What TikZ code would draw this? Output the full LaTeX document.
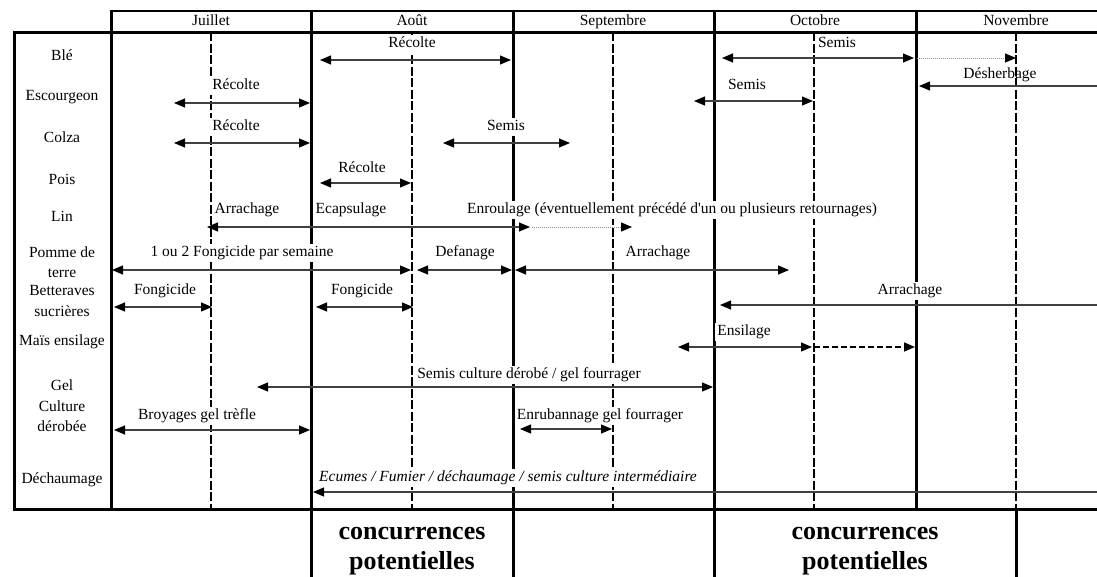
\documentclass[tikz,border=0pt]{standalone}
\usepackage{fontspec}
\setmainfont{Liberation Serif}
\usetikzlibrary{arrows.meta}
\begin{document}
\begin{tikzpicture}[x=1pt,y=-1pt,
  thickline/.style={line width=3pt,line cap=rect},
  thinline/.style={line width=1.5pt},
  midline/.style={line width=1.8pt,dash pattern=on 9pt off 2.5pt},
  lbl/.style={font=\fontsize{15.5}{18}\selectfont,fill=white,inner sep=2pt,text height=11pt,text depth=3.5pt},
  lblclear/.style={lbl,fill=none},
  month/.style={font=\fontsize{15.5}{18}\selectfont,inner sep=1pt,text height=11pt,text depth=3.5pt},
  rowlbl/.style={font=\fontsize{15.5}{20.5}\selectfont,align=center,inner sep=0pt},
  rowone/.style={font=\fontsize{15.5}{20.5}\selectfont,inner sep=0pt,text height=11pt,text depth=3.5pt},
  big/.style={font=\fontsize{26}{30}\selectfont\bfseries,align=center,inner sep=0pt},
  tipA/.tip={Triangle[length=11pt,width=9pt,color=black]},
  arr/.style={line width=1.1pt,draw=black!75,tipA-tipA},
  arrL/.style={line width=1.1pt,draw=black!75,-tipA},
  dotcont/.style={line width=0.9pt,draw=black!45,dash pattern=on 1pt off 1pt,-tipA},
  dashcont/.style={line width=1.6pt,draw=black,dash pattern=on 6pt off 3pt,-tipA}
]
\useasboundingbox (0,0) rectangle (1097,576);

% ---- grid ----
\draw[thinline] (111,11) -- (1097,11);
\foreach \x in {111,311,513,714,916} \draw[thickline] (\x,11) -- (\x,509);
\foreach \x in {211,412,613,814,1016} \draw[midline] (\x,32) -- (\x,509);
\draw[thickline] (14,32) -- (1097,32);
\draw[thickline] (14,32) -- (14,509);
\draw[thickline] (14,509) -- (1097,509);
\foreach \x in {311,513,714,1016} \draw[thickline] (\x,509) -- (\x,576);

% ---- months ----
\node[month] (mJul) at (211,22) {Juillet};
\node[month] (mAug) at (412,22) {Août};
\node[month] (mSep) at (613,22) {Septembre};
\node[month] (mOct) at (815,22) {Octobre};
\node[month] (mNov) at (1016,22) {Novembre};

% ---- row labels ----
\node[rowone] (rBle) at (62,57) {Blé};
\node[rowone] (rEsc) at (62,97) {Escourgeon};
\node[rowone] (rCol) at (62,139) {Colza};
\node[rowone] (rPoi) at (62,181) {Pois};
\node[rowone] (rLin) at (62,218) {Lin};
\node[rowlbl] (rPdt) at (62,262) {Pomme de\\terre};
\node[rowlbl] (rBet) at (62,301) {Betteraves\\sucrières};
\node[rowone] (rMai) at (62,342) {Maïs ensilage};
\node[rowlbl] (rGel) at (62,406) {Gel\\Culture\\dérobée};
\node[rowone] (rDec) at (62,480) {Déchaumage};

% ---- activity labels ----
\node[lbl] (t1) at (412,44) {Récolte};
\node[lbl] (t2) at (837,44) {Semis};
\node[lbl] (t3) at (236,86) {Récolte};
\node[lbl] (t4) at (747,86) {Semis};
\node[lblclear] (t5) at (1000,75) {Désherbage};
\node[lbl] (t6) at (236,127) {Récolte};
\node[lbl] (t7) at (506,127) {Semis};
\node[lbl] (t8) at (362,169) {Récolte};
\node[lbl] (t9) at (247,210) {Arrachage};
\node[lbl] (t10) at (351,210) {Ecapsulage};
\node[lbl] (t11) at (672,210) {Enroulage (éventuellement précédé d\textquotesingle un ou plusieurs retournages)};
\node[lbl] (t12) at (242,253) {1 ou 2 Fongicide par semaine};
\node[lbl] (t13) at (465,253) {Defanage};
\node[lbl] (t14) at (658,253) {Arrachage};
\node[lbl] (t15) at (165,291) {Fongicide};
\node[lbl] (t16) at (362,291) {Fongicide};
\node[lbl] (t17) at (910,291) {Arrachage};
\node[lbl] (t18) at (744,332) {Ensilage};
\node[lbl] (t19) at (529,375) {Semis culture dérobé / gel fourrager};
\node[lbl] (t20) at (197,416) {Broyages gel trèfle};
\node[lbl] (t21) at (600,416) {Enrubannage gel fourrager};
\node[lbl] (t22) at (508,478) {\itshape Ecumes / Fumier / déchaumage / semis culture intermédiaire};

% ---- arrows ----
\draw[arr] (320,60) -- (511,60);
\draw[arr] (722,58) -- (914,58);
\draw[dotcont] (917,58) -- (1016,58);
\draw[arr] (174,103) -- (310,103);
\draw[arr] (694,101) -- (813,101);
\draw[arrL] (1097,86) -- (919,86);
\draw[arr] (174,143) -- (310,143);
\draw[arr] (443,143) -- (570,143);
\draw[arr] (320,183) -- (411,183);
\draw[arr] (207,227) -- (530,227);
\draw[dotcont] (532,227) -- (632,227);
\draw[arr] (112,270) -- (411,270);
\draw[arr] (417,270) -- (512,270);
\draw[arr] (515,270) -- (789,270);
\draw[arr] (114,307) -- (212,307);
\draw[arr] (316,307) -- (413,307);
\draw[arrL] (1097,305) -- (720,305);
\draw[arr] (678,347) -- (812,347);
\draw[dashcont] (814,347) -- (915,347);
\draw[arr] (257,387) -- (713,387);
\draw[arr] (114,430) -- (310,430);
\draw[arr] (520,429) -- (612,429);
\draw[arrL] (1097,492) -- (313,492);

% ---- bottom ----
\node[big] (c1) at (412,551) {concurrences\\potentielles};
\node[big] (c2) at (865,551) {concurrences\\potentielles};
\end{tikzpicture}
\end{document}
